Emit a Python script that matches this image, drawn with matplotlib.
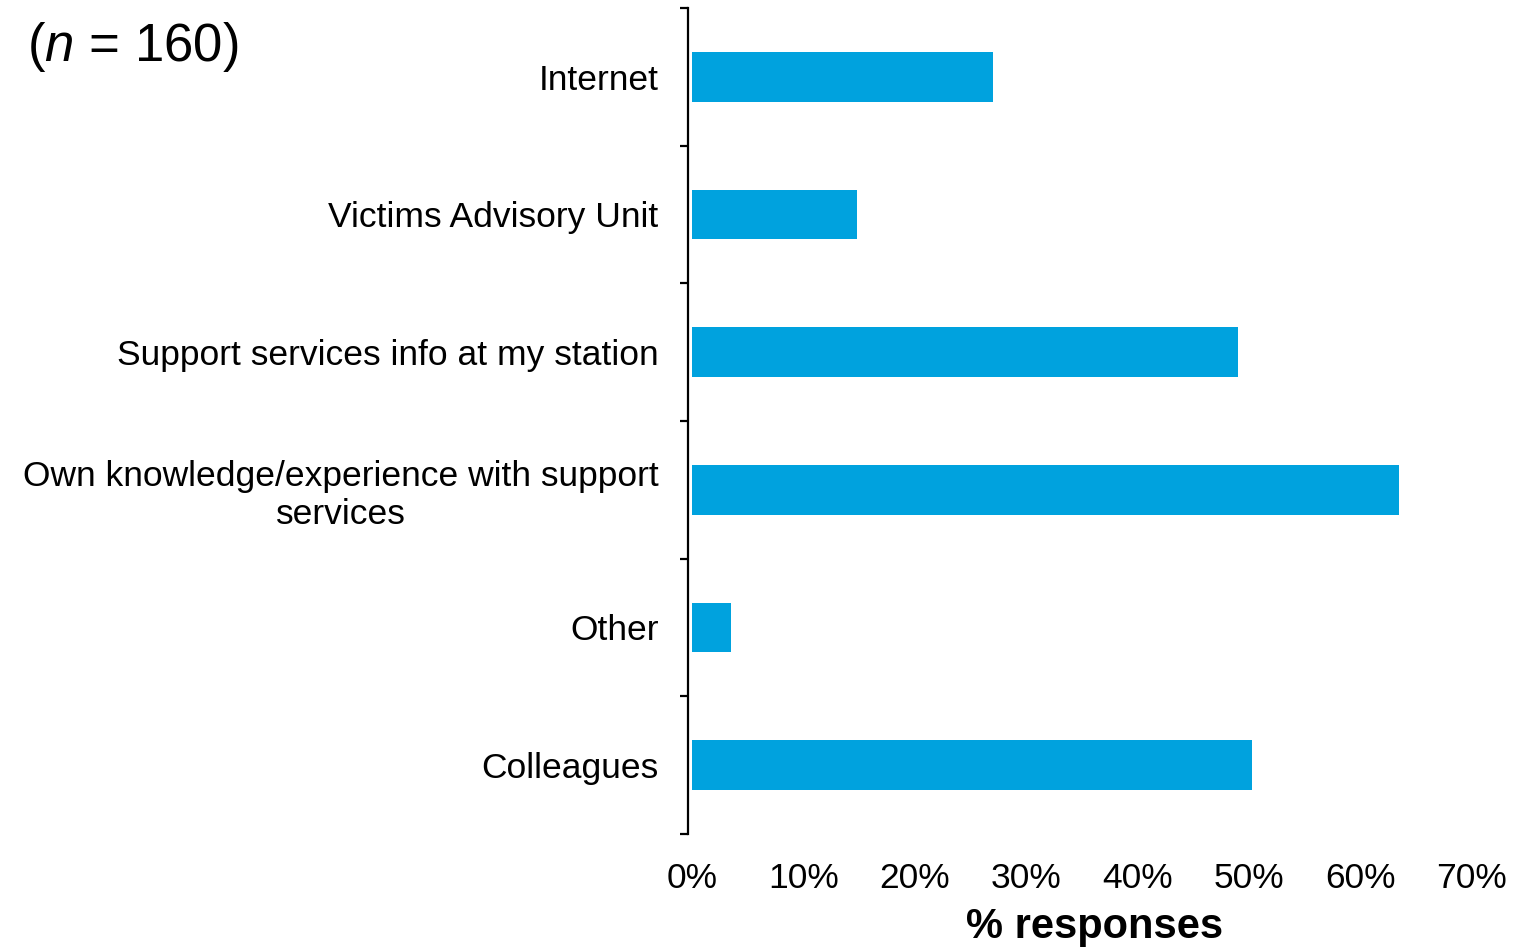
import matplotlib
matplotlib.use("Agg")
import matplotlib.pyplot as plt
import numpy as np

categories = ["Internet", "Victims Advisory Unit", "Support services info at my station",
              "Own knowledge/experience with support\nservices", "Other", "Colleagues"]
values = [27.0, 14.8, 49.0, 63.5, 3.5, 50.3]
xticks = [0, 10, 20, 30, 40, 50, 60, 70]
xtick_labels = ["0%", "10%", "20%", "30%", "40%", "50%", "60%", "70%"]

plt.rcParams['font.family'] = ['Liberation Sans', 'DejaVu Sans']
plt.rcParams['mathtext.fontset'] = 'custom'
plt.rcParams['mathtext.rm'] = 'Liberation Sans'
plt.rcParams['mathtext.it'] = 'Liberation Sans:italic'

W, H = 1514, 949
fig = plt.figure(figsize=(W / 100, H / 100), dpi=100)
x0, x1 = 692, 1471.7
y0, y1 = 8, 834
ax = fig.add_axes([x0 / W, 1 - y1 / H, (x1 - x0) / W, (y1 - y0) / H])

pos = np.arange(len(categories))
ax.barh(pos, values, height=0.36, color="#00A2DE", edgecolor="none")
ax.set_xlim(0, 70)
ax.set_ylim(len(categories) - 0.5, -0.5)

for s in ["top", "right", "bottom"]:
    ax.spines[s].set_visible(False)
ax.spines["left"].set_position(("outward", 3))
ax.spines["left"].set_linewidth(1.6)

ax.set_yticks(np.arange(-0.5, len(categories), 1.0))
ax.set_yticklabels([])
ax.set_yticks(pos, minor=True)
ax.set_yticklabels(categories, minor=True, fontsize=25.5, ha="right",
                   multialignment="center", linespacing=1.18)
ax.tick_params(axis="y", which="major", length=6, width=1.6, direction="out")
ax.tick_params(axis="y", which="minor", length=0, pad=21)

ax.set_xticks(xticks)
ax.set_xticklabels(xtick_labels, fontsize=25.5)
ax.tick_params(axis="x", length=0, pad=20)

ax.set_xlabel("% responses", fontsize=30, fontweight="bold")
ax.xaxis.set_label_coords(0.516, -0.088)

fig.text(27 / W, 1 - 47 / H, r"($n$ = 160)", fontsize=38, ha="left", va="center")

fig.savefig("out.png", dpi=100)
